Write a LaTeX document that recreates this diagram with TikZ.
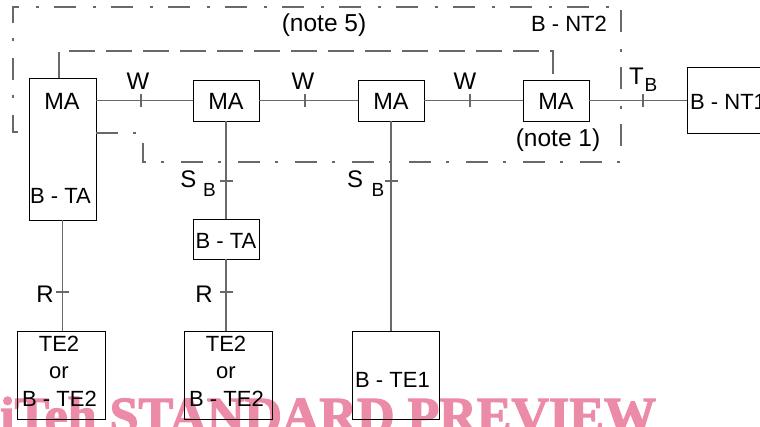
\documentclass[tikz,border=0pt]{standalone}
\usepackage{fontspec}
\setmainfont{Liberation Sans}
\newfontfamily\wmfont[FakeBold=2.5]{Liberation Serif Bold}
\definecolor{linegray}{RGB}{105,105,105}
\definecolor{wmpink}{RGB}{236,139,168}
\begin{document}
\begin{tikzpicture}[x=1pt,y=-1pt,
  box/.style={draw=black, line width=0.9pt, inner sep=0pt},
  lbl/.style={font=\fontsize{22}{26}\selectfont, inner sep=0pt, anchor=base},
  malbl/.style={font=\fontsize{23.5}{27}\selectfont, inner sep=0pt, anchor=base},
  iflbl/.style={font=\fontsize{24}{28}\selectfont, inner sep=0pt, anchor=base},
  notelbl/.style={font=\fontsize{24.5}{28}\selectfont, inner sep=0pt, anchor=base},
  sublbl/.style={font=\fontsize{19}{22}\selectfont, inner sep=0pt, anchor=base},
  conn/.style={draw=linegray, line width=1.3pt},
  tickmark/.style={draw=linegray, line width=1.2pt},
  dashdotline/.style={draw=linegray, line width=1.2pt, dash pattern=on 22pt off 15pt on 3pt off 17pt},
  longdash/.style={draw=linegray, line width=1.2pt, dash pattern=on 26pt off 11pt},
  watermark/.style={font=\wmfont\fontsize{52}{56}\selectfont, text=wmpink, inner sep=0pt, anchor=base west}]
\useasboundingbox (0,0) rectangle (760,427);

% watermark (behind)
\node[watermark] (wm) at (0,433) {iTeh STANDARD PREVIEW};

% boxes
\node[box, minimum width=67pt, minimum height=142pt] (bta1) at (62.5,149) {};
\node[box, minimum width=66pt, minimum height=41pt] (ma2) at (226,100.5) {};
\node[box, minimum width=66pt, minimum height=41pt] (ma3) at (391,100.5) {};
\node[box, minimum width=66pt, minimum height=41pt] (ma4) at (556,100.5) {};
\node[box, minimum width=113pt, minimum height=66pt] (nt1) at (743.5,100) {};
\node[box, minimum width=66pt, minimum height=40pt] (bta2) at (226,239) {};
\node[box, minimum width=88pt, minimum height=88pt] (te2a) at (61,375) {};
\node[box, minimum width=88pt, minimum height=88pt] (te2b) at (228,375) {};
\node[box, minimum width=87pt, minimum height=88pt] (te1) at (395.5,375) {};

% box texts
\node[malbl] (t-ma1) at (62,110) {MA};
\node[lbl, anchor=base west] (t-bta1) at (30,204) {B - TA};
\node[malbl] (t-ma2) at (226,110) {MA};
\node[malbl] (t-ma3) at (391,110) {MA};
\node[malbl] (t-ma4) at (556,110) {MA};
\node[lbl, anchor=base west] (t-nt1) at (690,110) {B - NT1};
\node[lbl] (t-bta2) at (226,249) {B - TA};
\node[lbl] (t-te2a1) at (59,352) {TE2};
\node[lbl] (t-te2a2) at (59,378) {or};
\node[lbl] (t-te2a3) at (59.5,406) {B - TE2};
\node[lbl] (t-te2b1) at (226,352) {TE2};
\node[lbl] (t-te2b2) at (226,378) {or};
\node[lbl] (t-te2b3) at (226.5,406) {B - TE2};
\node[lbl, anchor=base west] (t-te1) at (355,388) {B - TE1};

% boundary lines
\coordinate (d1) at (29,132);
\coordinate (d2) at (13,132);
\coordinate (d3) at (13,7);
\coordinate (d4) at (621,7);
\coordinate (d5) at (621,162);
\coordinate (d6) at (143,162);
\coordinate (d7) at (143,133);
\coordinate (d8) at (96,133);
\draw[dashdotline] (d8) -- (d7) -- (d6) -- (d5) -- (d4) -- (d3) -- (d2) -- (d1);

\coordinate (e1) at (59,78);
\coordinate (e2) at (59,51);
\coordinate (e3) at (553,51);
\coordinate (e4) at (553,80);
\draw[longdash] (e1) -- (e2) -- (e3) -- (e4);

% connectors
\draw[conn] (ma2.west -| bta1.east) -- (ma2.west);
\draw[conn] (ma2.east) -- (ma3.west);
\draw[conn] (ma3.east) -- (ma4.west);
\draw[conn] (ma4.east) -- (ma4.east -| nt1.west);
\draw[conn] (ma2.south) -- (bta2.north);
\draw[conn] (bta2.south) -- (bta2.south |- te2b.north);
\draw[conn] (ma3.south) -- (ma3.south |- te1.north);
\draw[conn] (bta1.south) -- (bta1.south |- te2a.north);

% ticks
\coordinate (w1) at (141,100.5);
\coordinate (w2) at (305,100.5);
\coordinate (w3) at (470,100.5);
\coordinate (tb) at (643,100.5);
\coordinate (sb1) at (226,181);
\coordinate (sb2) at (391,181);
\coordinate (r1) at (62.5,292);
\coordinate (r2) at (226,292);
\foreach \c in {w1,w2,w3,tb}
  \draw[tickmark] ([yshift=6.5pt]\c) -- ([yshift=-6.5pt]\c);
\foreach \c in {sb1,sb2,r1,r2}
  \draw[tickmark] ([xshift=-6.5pt]\c) -- ([xshift=6.5pt]\c);

% interface labels
\node[iflbl] (lw1) at (138,90) {W};
\node[iflbl] (lw2) at (303,90) {W};
\node[iflbl] (lw3) at (465,90) {W};
\node[iflbl] (lt) at (636.5,85) {T};
\node[sublbl] (ltb) at (651,92) {B};
\node[iflbl] (ls1) at (188.5,188) {S};
\node[sublbl] (ls1b) at (209.5,197) {B};
\node[iflbl] (ls2) at (355,188) {S};
\node[sublbl] (ls2b) at (378,197) {B};
\node[iflbl] (lr1) at (45,303) {R};
\node[iflbl] (lr2) at (204,303) {R};

% notes
\node[notelbl] (n5) at (324,32) {(note 5)};
\node[lbl] (nt2) at (569,32) {B - NT2};
\node[notelbl] (n1) at (558,147) {(note 1)};
\end{tikzpicture}
\end{document}
